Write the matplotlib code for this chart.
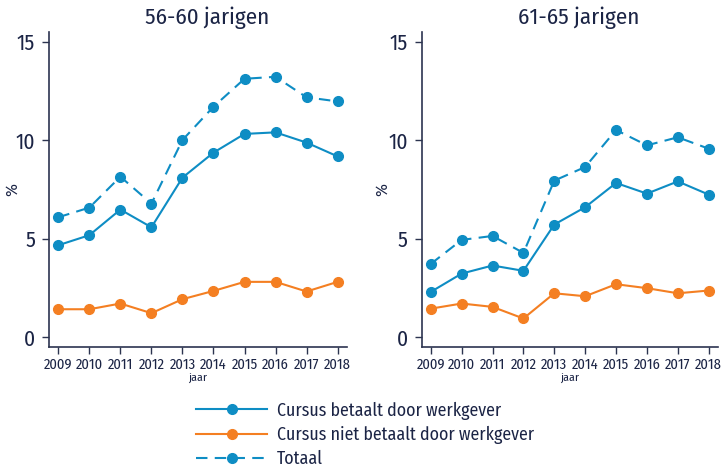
import numpy as np
import matplotlib.pyplot as plt
from matplotlib.lines import Line2D

years = [2009, 2010, 2011, 2012, 2013, 2014, 2015, 2016, 2017, 2018]

# 56-60 jarigen
betaald_56 = [4.67, 5.18, 6.48, 5.58, 8.10, 9.37, 10.32, 10.40, 9.88, 9.18]
niet_56 = [1.42, 1.42, 1.71, 1.22, 1.93, 2.35, 2.81, 2.81, 2.32, 2.81]
totaal_56 = [6.09, 6.58, 8.15, 6.78, 10.01, 11.70, 13.12, 13.22, 12.18, 11.97]

# 61-65 jarigen
betaald_61 = [2.30, 3.23, 3.64, 3.37, 5.72, 6.60, 7.83, 7.29, 7.91, 7.24]
niet_61 = [1.45, 1.71, 1.54, 0.95, 2.23, 2.08, 2.69, 2.49, 2.23, 2.37]
totaal_61 = [3.72, 4.94, 5.14, 4.28, 7.95, 8.64, 10.52, 9.74, 10.15, 9.57]

titles = ['56-60 jarigen', '61-65 jarigen']
labels = ['Cursus betaalt door werkgever', 'Cursus niet betaalt door werkgever', 'Totaal']

blue = '#0e8dc4'
orange = '#f47f22'
txt = '#1b2445'
spine = '#2c3450'

plt.rcParams['font.family'] = ['Fira Sans Condensed', 'DejaVu Sans']
plt.rcParams['text.color'] = txt

fig = plt.figure(figsize=(7.23, 4.69), dpi=100)
ax1 = fig.add_axes([0.0678, 0.260, 0.412, 0.672])
ax2 = fig.add_axes([0.583, 0.260, 0.410, 0.672])

data = [(betaald_56, niet_56, totaal_56), (betaald_61, niet_61, totaal_61)]
ms = 7
lw = 1.5
dash = (5.5, 3.5)

for ax, title, (b, n, t), lx in zip([ax1, ax2], titles, data, [-0.097, -0.104]):
    ax.plot(years, b, color=blue, lw=lw, marker='o', ms=ms)
    ax.plot(years, n, color=orange, lw=lw, marker='o', ms=ms)
    ax.plot(years, t, color=blue, lw=lw, marker='o', ms=ms, dashes=dash)
    ax.set_xlim(2008.7, 2018.3)
    ax.set_ylim(-0.5, 15.5)
    ax.set_xticks(years)
    ax.set_yticks([0, 5, 10, 15])
    ax.tick_params(axis='x', labelsize=10.5, colors=spine, labelcolor=txt, length=5, width=1, pad=3)
    ax.tick_params(axis='y', labelsize=15.5, colors=spine, labelcolor=txt, length=5, width=1, pad=5)
    for s in ['top', 'right']:
        ax.spines[s].set_visible(False)
    for s in ['left', 'bottom']:
        ax.spines[s].set_color(spine)
        ax.spines[s].set_linewidth(1.2)
    ax.set_title(title, fontsize=16.5, color=txt, pad=6, x=0.53)
    ax.set_ylabel('%', fontsize=12.5, color=txt)
    ax.yaxis.set_label_coords(lx, 0.5)
    ax.set_xlabel('jaar', fontsize=8.5, color=txt, labelpad=0)

handles = [
    Line2D([], [], color=blue, lw=lw, marker='o', ms=ms),
    Line2D([], [], color=orange, lw=lw, marker='o', ms=ms),
    Line2D([], [], color=blue, lw=lw, marker='o', ms=ms, dashes=dash),
]
fig.legend(handles, labels, loc='upper left', bbox_to_anchor=(0.249, 0.178),
           frameon=False, fontsize=12.8, handlelength=4.0, handletextpad=0.55,
           labelspacing=0.35, labelcolor=txt)

fig.savefig('out.png', dpi=100)
